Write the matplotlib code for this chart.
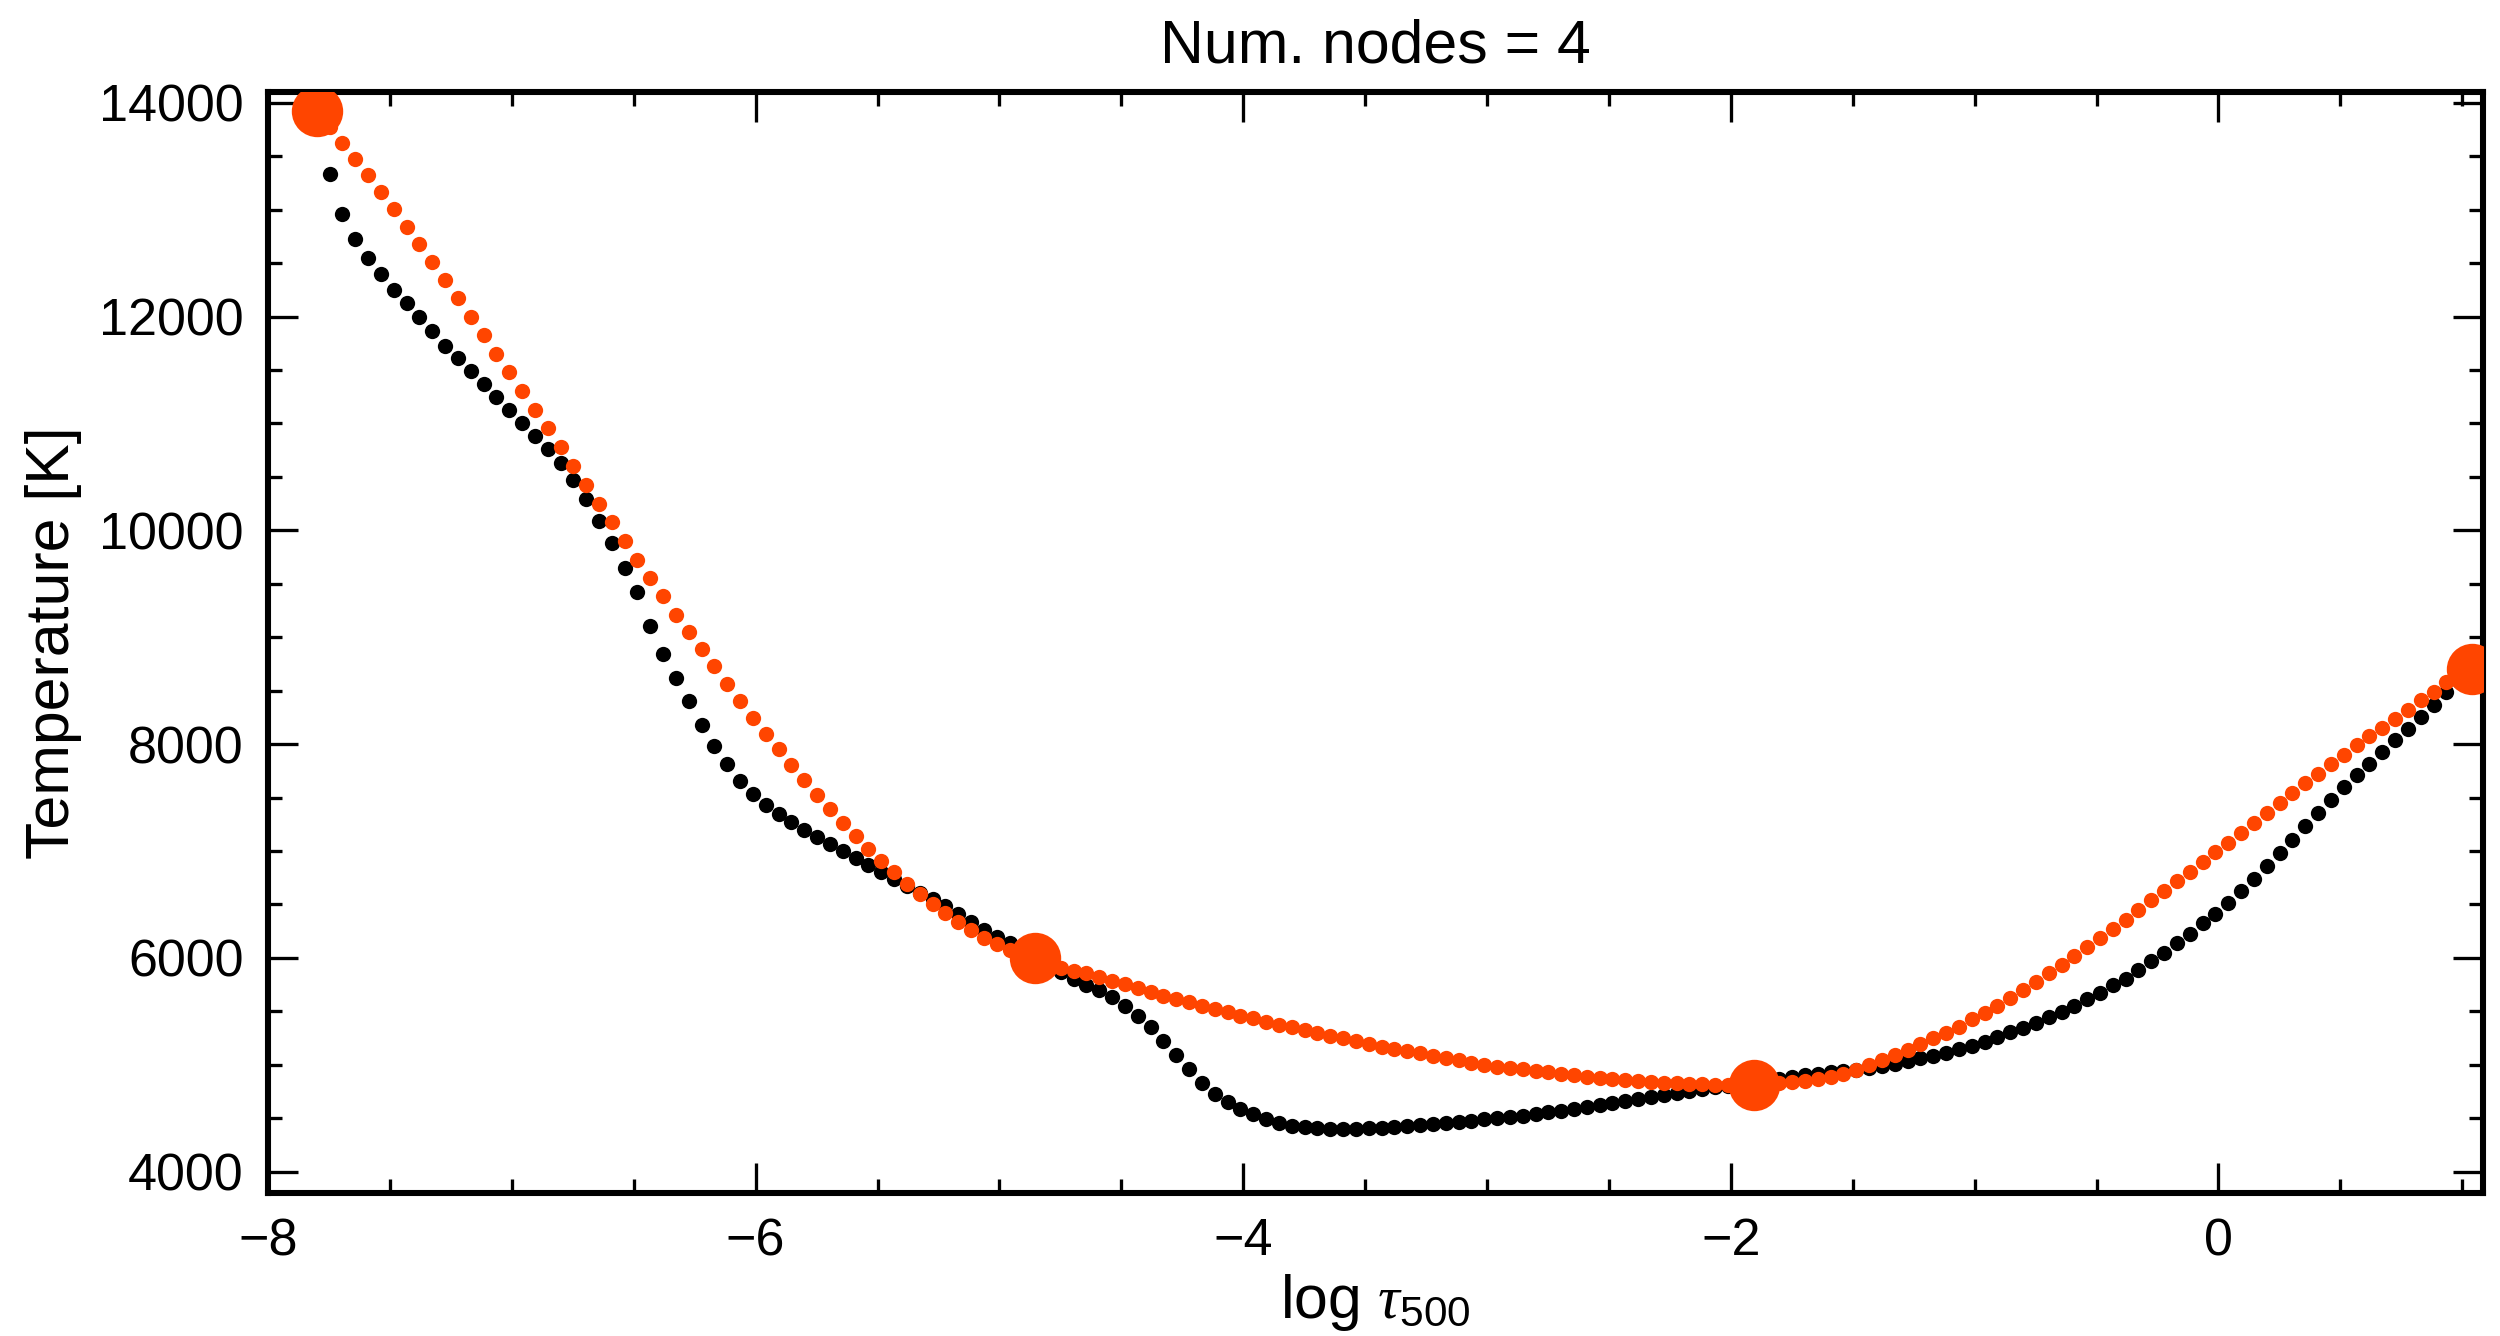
import numpy as np
import matplotlib
matplotlib.use("Agg")
import matplotlib.pyplot as plt
from matplotlib.ticker import MultipleLocator

plt.rcParams['font.family'] = ['Liberation Sans', 'DejaVu Sans']
plt.rcParams['mathtext.fontset'] = 'custom'
plt.rcParams['mathtext.rm'] = 'Liberation Sans'
plt.rcParams['mathtext.it'] = 'Liberation Serif:italic'

# optical depth grid (uniform in log tau)
log_tau = np.round(np.linspace(-7.80, 1.04, 169), 4)

# reference (black) temperature stratification [K]
T_ref = [
    13790, 13331, 12957, 12729, 12552, 12396, 12250, 12125, 11991, 11860,
    11726, 11608, 11486, 11368, 11250, 11125, 11004, 10885, 10761, 10630,
    10470, 10294, 10088, 9879, 9649, 9420, 9107, 8841, 8621, 8402,
    8181, 7981, 7810, 7654, 7530, 7434, 7350, 7271, 7200, 7131,
    7063, 7000, 6935, 6873, 6804, 6742, 6670, 6608, 6555, 6483,
    6408, 6337, 6265, 6196, 6140, 6070, 6005, 5940, 5869, 5798,
    5745, 5698, 5636, 5551, 5458, 5355, 5224, 5091, 4960, 4826,
    4726, 4649, 4583, 4536, 4493, 4452, 4430, 4415, 4405, 4402,
    4402, 4402, 4405, 4411, 4418, 4424, 4434, 4443, 4452, 4467,
    4477, 4490, 4502, 4508, 4520, 4536, 4555, 4570, 4589, 4607,
    4623, 4645, 4664, 4679, 4701, 4717, 4738, 4757, 4770, 4789,
    4800, 4815, 4830, 4848, 4865, 4885, 4900, 4915, 4928, 4940,
    4952, 4966, 4985, 5008, 5035, 5060, 5084, 5112, 5144, 5178,
    5210, 5262, 5310, 5340, 5393, 5443, 5495, 5549, 5611, 5673,
    5745, 5807, 5885, 5969, 6050, 6135, 6228, 6322, 6415, 6518,
    6626, 6742, 6860, 6985, 7107, 7231, 7355, 7474, 7598, 7708,
    7817, 7925, 8035, 8137, 8253, 8362, 8486, 8590, 8690,
]

# interpolated (orange) model through the nodes [K]
T_model = [
    13920, 13775, 13626, 13471, 13322, 13168, 13004, 12841, 12677, 12511,
    12343, 12175, 12000, 11829, 11654, 11477, 11306, 11128, 10953, 10776,
    10598, 10421, 10250, 10074, 9897, 9725, 9555, 9383, 9212, 9047,
    8885, 8726, 8565, 8402, 8247, 8097, 7951, 7808, 7667, 7527,
    7396, 7265, 7137, 7022, 6910, 6804, 6695, 6602, 6508, 6421,
    6337, 6259, 6187, 6128, 6072, 6035, 6000, 5955, 5910, 5879,
    5854, 5817, 5785, 5751, 5714, 5682, 5645, 5614, 5583, 5549,
    5521, 5490, 5458, 5434, 5402, 5371, 5350, 5324, 5293, 5268,
    5247, 5221, 5193, 5168, 5147, 5125, 5107, 5084, 5063, 5041,
    5019, 4997, 4981, 4970, 4957, 4944, 4929, 4913, 4901, 4888,
    4876, 4866, 4857, 4848, 4841, 4832, 4826, 4820, 4817, 4813,
    4811, 4810, 4810, 4815, 4825, 4838, 4852, 4868, 4888, 4918,
    4955, 4997, 5044, 5091, 5137, 5193, 5247, 5299, 5355, 5424,
    5488, 5553, 5628, 5698, 5773, 5854, 5932, 6016, 6103, 6184,
    6268, 6359, 6449, 6539, 6630, 6717, 6804, 6897, 6991, 7079,
    7172, 7265, 7359, 7452, 7542, 7636, 7723, 7817, 7901, 7988,
    8072, 8153, 8237, 8322, 8409, 8486, 8580, 8645, 8705,
]

# node positions (indices into the grid) and node temperatures
node_idx = [0, 56, 112, 168]
node_T = [13920, 6000, 4810, 8705]

title_text = "Num. nodes = 4"
xlabel_text = r"log $\tau_{500}$"
ylabel_text = "Temperature [K]"

fig = plt.figure(figsize=(10, 5.344), dpi=250)
ax = fig.add_axes([0.1072, 0.1070, 0.8860, 0.8241])

ax.plot(log_tau, T_ref, linestyle='none', marker='o', ms=4.4, mew=0,
        color='black', zorder=2)
ax.plot(log_tau, T_model, linestyle='none', marker='o', ms=4.4, mew=0,
        color='#FF4500', zorder=3)
ax.plot(log_tau[node_idx], node_T, linestyle='none', marker='o', ms=14.8,
        mew=0, color='#FF4500', zorder=4)

ax.set_xlim(-8.0, 1.085)
ax.set_ylim(3800, 14100)

ax.xaxis.set_major_locator(MultipleLocator(2))
ax.xaxis.set_minor_locator(MultipleLocator(0.5))
ax.yaxis.set_major_locator(MultipleLocator(2000))
ax.yaxis.set_minor_locator(MultipleLocator(500))

ax.tick_params(which='both', direction='in', top=True, right=True,
               labelsize=15, width=0.95)
ax.tick_params(which='major', length=8.6, pad=7)
ax.tick_params(which='minor', length=4.0)
for s in ax.spines.values():
    s.set_linewidth(1.75)

ax.set_title(title_text, fontsize=17.5, pad=8.5)
ax.set_xlabel(xlabel_text, fontsize=17.5, labelpad=1.5)
ax.set_ylabel(ylabel_text, fontsize=17.5, labelpad=5)

fig.savefig("out.png", dpi=250)
